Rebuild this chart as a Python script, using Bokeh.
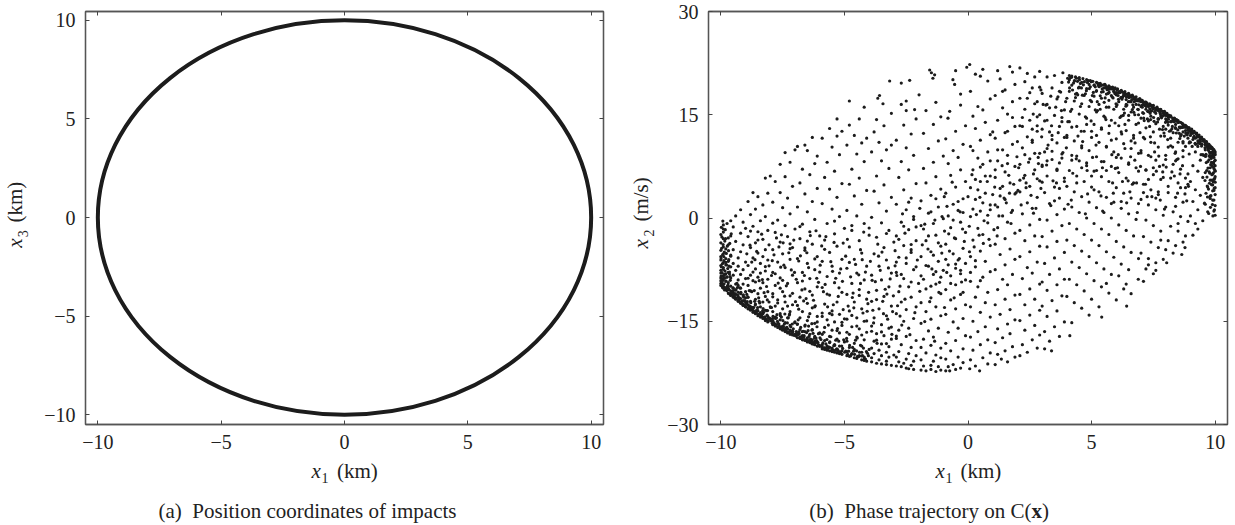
import math
from bokeh.plotting import figure
from bokeh.models import Range1d, FixedTicker, LinearAxis
from bokeh.core.properties import value
from bokeh.layouts import row, column
from bokeh.embed import file_html
from bokeh.resources import INLINE

SERIF = "Liberation Serif"
INK = "#1c1c1c"
TXT = "#222222"
FRAME = "#555555"

# ---------------- data: panel (a) ----------------
ring_center_x = [0.0]
ring_center_y = [0.0]
ring_diameter = [20.0]

# ---------------- ticks ----------------
x1_ticks = [-10, -5, 0, 5, 10]
x1_tick_labels = ["−10", "−5", "0", "5", "10"]
x3_ticks = [-10, -5, 0, 5, 10]
x3_tick_labels = ["−10", "−5", "0", "5", "10"]
x2_ticks = [-30, -15, 0, 15, 30]
x2_tick_labels = ["−30", "−15", "0", "15", "30"]

# ---------------- data: panel (b), points read region by region ----------------
col_m10 = [(-10.0,-9.8),(-10.0,-9.5),(-10.0,-9.1),(-9.9,-9.9),(-10.0,-8.7),(-9.9,-8.4),(-10.0,-8.0),(-10.0,-7.6),(-9.9,-7.2),(-10.0,-6.9),(-9.9,-6.5),(-10.0,-6.1),(-10.0,-5.6),(-9.9,-5.2),(-10.0,-4.7),(-9.9,-4.2),(-10.0,-3.6),(-9.9,-3.0),(-10.0,-2.4),(-9.9,-1.6),(-9.9,-1.0),(-9.8,-9.2),(-9.8,-8.1),(-9.8,-6.8),(-9.8,-5.9),(-9.8,-4.5),(-9.8,-10.3),(-9.9,-10.2),(-9.7,-10.9),
            (-9.6,-11.2),(-9.5,-11.5),(-9.4,-11.8),(-9.3,-12.1),(-9.2,-12.4),(-9.1,-12.7),(-9.0,-12.9),(-9.7,-10.2),(-9.6,-10.6),(-9.5,-10.9),(-9.4,-11.1),(-9.3,-11.5),(-9.2,-11.7),(-9.1,-12.0),(-9.0,-12.3),
            (-9.7,-9.4),(-9.6,-9.9),(-9.5,-10.2),(-9.4,-10.5),(-9.3,-10.8),(-9.2,-11.0),(-9.1,-11.3),(-9.0,-11.6),(-9.6,-8.7),(-9.4,-9.6),(-9.2,-10.2),(-9.0,-10.7),(-9.7,-7.9),(-9.5,-8.3),(-9.3,-9.0),(-9.1,-9.6),
            (-9.6,-7.1),(-9.4,-7.6),(-9.2,-8.2),(-9.0,-8.8),(-9.7,-6.3),(-9.5,-6.6),(-9.3,-7.0),(-9.1,-7.5),(-9.6,-5.4),(-9.3,-5.8),(-9.0,-6.4),(-9.5,-4.6),(-9.2,-4.9),(-9.7,-3.9),(-9.4,-3.4),(-9.1,-3.9),
            (-9.6,-2.6),(-9.2,-2.2),(-9.5,-1.3),(-9.1,-0.6),(-9.4,0.3),(-9.6,-0.4),(-9.2,1.2),(-9.0,-1.5),(-9.3,-9.8)]
col_m9 = [(-8.9,-13.2),(-8.8,-13.4),(-8.7,-13.7),(-8.6,-13.9),(-8.5,-14.2),(-8.4,-14.4),(-8.3,-14.6),(-8.2,-14.9),(-8.1,-15.1),(-8.9,-12.6),(-8.7,-13.0),(-8.5,-13.5),(-8.3,-13.9),(-8.1,-14.3),(-8.8,-12.1),(-8.6,-12.5),(-8.4,-12.9),(-8.2,-13.4),
          (-8.9,-11.5),(-8.6,-11.8),(-8.3,-12.2),(-8.0,-12.9),(-8.8,-10.6),(-8.5,-11.0),(-8.2,-11.4),(-8.9,-9.8),(-8.4,-10.2),(-8.1,-10.7),(-8.7,-9.1),(-8.3,-9.4),(-8.8,-8.3),(-8.5,-8.6),(-8.1,-8.9),(-8.6,-7.4),(-8.2,-7.7),(-8.9,-6.9),(-8.4,-6.6),(-8.7,-5.8),(-8.1,-6.1),
          (-8.5,-5.1),(-8.8,-4.3),(-8.2,-4.6),(-8.6,-3.6),(-8.3,-3.1),(-8.9,-2.7),(-8.5,-2.0),(-8.1,-1.8),(-8.7,-1.2),(-8.4,-0.4),(-8.8,0.5),(-8.2,0.2),(-8.6,1.3),(-8.9,2.4),(-8.3,1.9),(-8.5,3.1),(-8.1,3.6),(-8.7,3.7),(-8.2,5.8),(-8.0,6.1)]
col_m8 = [(-7.9,-15.5),(-7.8,-15.7),(-7.7,-15.9),(-7.6,-16.1),(-7.5,-16.3),(-7.4,-16.5),(-7.3,-16.7),(-7.2,-16.9),(-7.1,-17.0),(-7.9,-14.9),(-7.7,-15.3),(-7.5,-15.7),(-7.3,-16.1),(-7.1,-16.4),(-7.8,-14.4),(-7.6,-14.8),(-7.4,-15.2),(-7.2,-15.6),
          (-7.9,-13.6),(-7.6,-13.9),(-7.3,-14.5),(-7.0,-15.1),(-7.8,-12.8),(-7.5,-13.2),(-7.2,-13.6),(-7.7,-11.9),(-7.4,-12.2),(-7.1,-12.6),(-7.9,-11.0),(-7.5,-10.7),(-7.2,-11.3),(-7.8,-9.8),(-7.3,-9.5),(-7.6,-8.7),(-7.1,-8.3),(-7.9,-7.9),(-7.4,-7.2),(-7.7,-6.4),(-7.2,-6.0),
          (-7.5,-5.2),(-7.9,-4.6),(-7.1,-4.3),(-7.6,-3.5),(-7.3,-2.7),(-7.8,-2.1),(-7.4,-1.1),(-7.0,-1.6),(-7.7,-0.3),(-7.2,0.6),(-7.5,1.5),(-7.9,2.3),(-7.3,2.9),(-7.6,3.7),(-7.1,4.6),(-7.8,5.3),(-7.4,6.0),(-7.6,7.8),(-7.2,8.1),(-7.4,9.5),(-7.0,9.9)]
col_m7 = [(-6.9,-17.4),(-6.8,-17.5),(-6.7,-17.7),(-6.6,-17.8),(-6.5,-18.0),(-6.4,-18.1),(-6.3,-18.3),(-6.2,-18.4),(-6.1,-18.6),(-6.9,-16.8),(-6.7,-17.1),(-6.5,-17.4),(-6.3,-17.7),(-6.1,-18.0),(-6.8,-16.2),(-6.6,-16.5),(-6.4,-16.9),(-6.2,-17.2),
          (-6.9,-15.4),(-6.6,-15.7),(-6.3,-16.2),(-6.0,-16.7),(-6.8,-14.5),(-6.5,-14.9),(-6.2,-15.3),(-6.7,-13.6),(-6.4,-13.9),(-6.1,-14.3),(-6.9,-12.7),(-6.5,-12.4),(-6.2,-12.9),(-6.8,-11.5),(-6.3,-11.2),(-6.6,-10.3),(-6.1,-10.0),(-6.9,-9.4),(-6.4,-8.8),(-6.7,-7.9),(-6.2,-7.5),
          (-6.5,-6.6),(-6.9,-5.9),(-6.1,-5.6),(-6.6,-4.7),(-6.3,-3.8),(-6.8,-3.0),(-6.4,-2.0),(-6.0,-2.6),(-6.7,-0.9),(-6.2,-0.2),(-6.5,0.9),(-6.9,1.6),(-6.3,2.4),(-6.6,3.5),(-6.1,4.3),(-6.8,5.1),(-6.4,6.3),(-6.7,7.1),(-6.2,7.9),(-6.5,9.8),(-6.9,10.4),(-6.6,10.6),(-6.3,11.7),(-6.1,9.0)]
col_m6 = [(-5.9,-19.0),(-5.8,-19.1),(-5.7,-19.2),(-5.6,-19.3),(-5.5,-19.4),(-5.4,-19.5),(-5.3,-19.6),(-5.2,-19.7),(-5.1,-19.8),(-5.9,-18.4),(-5.7,-18.6),(-5.5,-18.9),(-5.3,-19.1),(-5.1,-19.3),(-5.8,-17.8),(-5.6,-18.1),(-5.4,-18.4),(-5.2,-18.6),
          (-5.9,-16.9),(-5.6,-17.2),(-5.3,-17.6),(-5.0,-18.0),(-5.8,-15.9),(-5.5,-16.3),(-5.2,-16.7),(-5.7,-14.8),(-5.4,-15.1),(-5.1,-15.6),(-5.9,-13.8),(-5.5,-13.5),(-5.2,-14.0),(-5.8,-12.5),(-5.3,-12.2),(-5.6,-11.2),(-5.1,-10.8),(-5.9,-10.1),(-5.4,-9.4),(-5.7,-8.5),(-5.2,-8.0),
          (-5.5,-7.0),(-5.9,-6.3),(-5.1,-6.0),(-5.6,-5.0),(-5.3,-4.1),(-5.8,-3.2),(-5.4,-2.3),(-5.0,-1.5),(-5.7,-0.8),(-5.2,0.2),(-5.5,1.3),(-5.9,2.1),(-5.3,3.0),(-5.6,4.2),(-5.1,5.0),(-5.8,5.9),(-5.4,6.8),(-5.7,8.1),(-5.2,9.2),(-5.5,10.3),(-5.9,11.6),(-5.3,11.9),(-5.6,13.0),(-5.1,12.6),(-5.3,14.4)]
col_m5 = [(-4.9,-20.0),(-4.8,-20.1),(-4.6,-20.3),(-4.5,-20.4),(-4.3,-20.6),(-4.2,-20.7),(-4.1,-20.8),(-4.9,-19.4),(-4.7,-19.7),(-4.4,-20.0),(-4.2,-20.2),(-4.8,-18.8),(-4.6,-19.1),(-4.3,-19.5),
          (-4.9,-17.9),(-4.6,-18.2),(-4.3,-18.6),(-4.0,-19.1),(-4.8,-16.9),(-4.5,-17.3),(-4.2,-17.7),(-4.7,-15.8),(-4.4,-16.1),(-4.1,-16.6),(-4.9,-14.7),(-4.5,-14.5),(-4.2,-15.0),(-4.8,-13.5),(-4.3,-13.2),(-4.6,-12.2),(-4.1,-11.8),(-4.9,-11.1),(-4.4,-10.4),(-4.7,-9.5),(-4.2,-9.0),
          (-4.5,-8.0),(-4.9,-7.3),(-4.1,-7.0),(-4.6,-6.0),(-4.3,-5.1),(-4.8,-4.2),(-4.4,-3.3),(-4.0,-2.5),(-4.7,-1.8),(-4.2,-0.8),(-4.5,0.3),(-4.9,1.1),(-4.3,2.0),(-4.6,3.2),(-4.1,4.0),(-4.8,4.9),(-4.4,5.8),(-4.7,7.1),(-4.2,8.2),(-4.5,9.3),(-4.9,10.6),(-4.3,10.9),(-4.6,12.0),(-4.1,11.6),(-4.8,13.5),(-4.4,14.4),(-4.8,17.0),(-4.2,16.1)]
col_m4 = [(-3.9,-20.9),(-3.7,-21.1),(-3.5,-21.2),(-3.3,-21.3),(-3.1,-21.4),(-3.9,-20.3),(-3.6,-20.6),(-3.3,-20.8),(-3.8,-19.7),(-3.5,-20.0),(-3.2,-20.2),
          (-3.9,-18.9),(-3.6,-19.2),(-3.3,-19.5),(-3.0,-19.9),(-3.8,-17.9),(-3.5,-18.3),(-3.2,-18.7),(-3.7,-16.8),(-3.4,-17.1),(-3.1,-17.6),(-3.9,-15.7),(-3.5,-15.5),(-3.2,-16.0),(-3.8,-14.5),(-3.3,-14.2),(-3.6,-13.2),(-3.1,-12.8),(-3.9,-12.1),(-3.4,-11.4),(-3.7,-10.5),(-3.2,-10.0),
          (-3.5,-9.0),(-3.9,-8.3),(-3.1,-8.0),(-3.6,-7.0),(-3.3,-6.1),(-3.8,-5.2),(-3.4,-4.3),(-3.0,-3.5),(-3.7,-2.8),(-3.2,-1.8),(-3.5,-0.7),(-3.9,0.1),(-3.3,1.0),(-3.6,2.2),(-3.1,3.0),(-3.8,3.9),(-3.4,4.8),(-3.7,6.1),(-3.2,7.2),(-3.5,8.3),(-3.9,9.6),(-3.3,9.9),(-3.6,11.0),(-3.1,10.6),(-3.8,12.5),(-3.4,13.4),(-3.7,14.3),(-3.1,15.2),(-3.65,17.4),(-3.58,17.8),(-3.44,16.6),(-3.17,19.9)]
col_m3 = [(-2.9,-21.5),(-2.7,-21.6),(-2.5,-21.8),(-2.4,-21.9),(-2.2,-22.0),(-2.8,-20.9),(-2.6,-21.1),(-2.3,-21.4),(-2.9,-20.2),(-2.5,-20.5),(-2.2,-20.8),
          (-2.8,-19.4),(-2.4,-19.7),(-2.1,-20.0),(-2.7,-18.4),(-2.3,-18.8),(-2.9,-17.5),(-2.5,-17.2),(-2.1,-17.8),(-2.8,-16.3),(-2.4,-16.0),(-2.6,-15.0),(-2.2,-14.6),(-2.9,-13.9),(-2.5,-13.3),(-2.1,-12.9),(-2.7,-12.2),(-2.3,-11.5),(-2.8,-10.7),(-2.4,-10.0),(-2.0,-9.5),
          (-2.6,-8.8),(-2.9,-7.9),(-2.2,-7.5),(-2.5,-6.6),(-2.8,-5.7),(-2.3,-5.0),(-2.6,-4.0),(-2.1,-3.3),(-2.9,-2.6),(-2.4,-1.7),(-2.7,-0.6),(-2.2,0.2),(-2.5,1.2),(-2.9,2.0),(-2.3,2.9),(-2.6,4.1),(-2.1,5.0),(-2.8,5.9),(-2.4,7.0),(-2.7,8.2),(-2.2,9.1),(-2.5,10.2),(-2.9,11.3),(-2.3,12.2),(-2.6,13.5),(-2.1,14.4),(-2.5,15.6),(-2.7,16.5),(-2.16,15.75),(-2.36,20.0),(-2.7,19.6),(-1.98,17.9),(-2.5,17.0)]
col_m2 = [(-1.9,-22.1),(-1.7,-22.2),(-1.5,-22.0),(-1.3,-22.3),(-1.1,-22.1),(-1.8,-21.5),(-1.5,-21.4),(-1.2,-21.6),(-1.9,-20.6),(-1.4,-20.8),(-1.1,-20.3),
          (-1.7,-19.6),(-1.3,-19.9),(-1.9,-18.8),(-1.5,-18.5),(-1.1,-18.9),(-1.8,-17.6),(-1.4,-17.3),(-1.6,-16.4),(-1.2,-16.0),(-1.9,-15.3),(-1.5,-14.7),(-1.1,-14.2),(-1.7,-13.6),(-1.3,-12.9),(-1.9,-12.3),(-1.5,-11.6),(-1.1,-11.0),(-1.7,-10.3),(-1.3,-9.6),
          (-1.8,-8.9),(-1.4,-8.2),(-1.0,-7.6),(-1.6,-7.0),(-1.2,-6.3),(-1.9,-5.6),(-1.5,-4.9),(-1.1,-4.1),(-1.7,-3.3),(-1.3,-2.5),(-1.8,-1.6),(-1.4,-0.8),(-1.0,-0.1),(-1.6,0.7),(-1.2,1.6),(-1.9,2.5),(-1.5,3.3),(-1.1,4.2),(-1.7,5.1),(-1.3,6.0),(-1.8,7.2),(-1.4,8.1),(-1.0,9.0),(-1.6,10.1),(-1.2,11.2),(-1.8,12.3),(-1.4,13.6),(-1.1,14.7),(-1.55,21.5),(-1.48,21.1),(-1.42,20.3),(-1.35,20.8),(-1.7,15.6),(-1.3,16.8)]
col_m1 = [(-0.9,-22.2),(-0.74,-22.2),(-0.5,-22.0),(-0.3,-21.8),(-0.8,-21.6),(-0.6,-21.3),(-0.2,-21.0),(-0.9,-20.5),(-0.4,-20.2),
          (-0.7,-19.3),(-0.2,-19.0),(-0.9,-18.2),(-0.5,-17.8),(-0.1,-17.1),(-0.8,-16.6),(-0.4,-16.0),(-0.6,-15.1),(-0.2,-14.6),(-0.9,-14.0),(-0.5,-13.2),(-0.1,-12.6),(-0.7,-11.9),(-0.3,-11.1),(-0.9,-10.4),(-0.5,-9.7),(-0.1,-9.0),(-0.7,-8.4),(-0.3,-7.6),(-0.8,-6.8),(-0.4,-6.1),
          (-0.6,-5.2),(-0.2,-4.4),(-0.9,-3.8),(-0.5,-3.0),(-0.1,-2.1),(-0.7,-1.4),(-0.3,-0.6),(-0.8,0.3),(-0.4,1.1),(-0.6,2.0),(-0.2,2.8),(-0.9,3.6),(-0.5,4.5),(-0.1,5.3),(-0.7,6.2),(-0.3,7.0),(-0.8,7.9),(-0.4,8.8),(-0.6,9.8),(-0.2,10.7),(-0.9,11.5),(-0.5,12.6),(-0.1,13.4),(-0.74,15.5),(-0.81,14.5),(-0.3,16.4),(-0.61,20.1),(-0.54,19.4),(-0.5,21.4),(-0.3,18.0),(-0.05,21.9)]
col_p0 = [(0.07,-21.9),(0.47,-22.2),(0.3,-21.5),(0.8,-21.2),(0.1,-20.6),(0.6,-20.3),(0.9,-19.6),(0.2,-19.2),(0.5,-18.4),(0.8,-17.7),(0.1,-17.3),
          (0.4,-16.5),(0.7,-15.8),(0.2,-15.0),(0.9,-14.4),(0.5,-13.7),(0.1,-12.9),(0.7,-12.3),(0.3,-11.5),(0.8,-10.8),(0.4,-10.0),(0.1,-9.2),
          (0.6,-8.6),(0.9,-7.8),(0.3,-7.1),(0.7,-6.3),(0.1,-5.6),(0.5,-4.8),(0.9,-4.0),(0.2,-3.2),(0.6,-2.4),(0.4,-1.5),(0.8,-0.7),(0.1,0.2),(0.5,1.0),(0.9,1.9),(0.3,2.7),(0.7,3.6),(0.1,4.4),(0.5,5.3),(0.9,6.1),(0.2,7.0),(0.6,7.8),(0.4,8.7),(0.8,9.6),(0.1,10.4),(0.5,11.3),(0.9,12.1),(0.3,13.0),(0.7,13.9),(0.2,14.8),(0.6,15.7),(0.4,16.2),(0.9,17.3),(0.1,18.4),(0.07,22.3),(0.6,21.6),(0.3,20.9),(0.8,19.9),(0.5,20.6)]
col_p1 = [(1.1,-21.3),(1.35,-20.5),(1.6,-20.9),(1.9,-20.2),(1.2,-19.8),(1.5,-19.3),(1.8,-18.7),(1.1,-18.1),(1.4,-17.4),(1.7,-16.8),(1.2,-16.1),(1.6,-15.4),(1.9,-14.8),(1.3,-14.0),(1.7,-13.3),(1.1,-12.6),(1.5,-11.8),(1.9,-11.2),(1.2,-10.4),(1.6,-9.7),
          (1.4,-8.9),(1.8,-8.2),(1.1,-7.5),(1.5,-6.8),(1.9,-6.0),(1.3,-5.3),(1.7,-4.5),(1.1,-3.8),(1.5,-3.0),(1.9,-2.2),(1.2,-1.4),(1.6,-0.6),(1.4,0.3),(1.8,1.1),(1.1,1.9),(1.5,2.7),(1.9,3.5),(1.3,4.3),(1.7,5.1),(1.1,5.9),(1.5,6.7),(1.9,7.5),(1.2,8.3),(1.6,9.1),(1.4,9.9),(1.8,10.7),(1.1,11.6),(1.5,12.4),(1.9,13.3),(1.2,14.2),(1.6,15.1),(1.4,16.0),(1.8,16.9),(1.1,17.8),(1.5,18.6),(1.9,19.4),(1.3,20.2),(1.69,22.0),(1.8,21.2),(1.2,21.4),(1.6,7.9),(1.3,3.2)]
col_p2 = [(2.1,-20.0),(2.4,-19.5),(2.8,-18.9),(2.2,-18.4),(2.6,-17.7),(2.9,-17.0),(2.3,-16.3),(2.7,-15.6),(2.1,-14.9),(2.5,-14.1),(2.9,-13.4),(2.3,-12.6),(2.7,-11.8),(2.1,-11.1),(2.5,-10.3),(2.9,-9.6),(2.2,-8.8),(2.6,-8.0),(2.4,-7.2),(2.8,-6.4),
          (2.1,-5.6),(2.5,-4.9),(2.9,-4.1),(2.3,-3.3),(2.7,-2.6),(2.1,-1.8),(2.5,-1.0),(2.9,-0.2),(2.2,0.6),(2.6,1.4),(2.4,2.2),(2.8,3.0),(2.1,3.8),(2.5,4.6),(2.9,5.4),(2.3,6.2),(2.7,7.0),(2.1,7.8),(2.5,8.6),(2.9,9.4),(2.2,10.2),(2.6,11.0),(2.4,11.8),(2.8,12.6),(2.1,13.4),(2.5,14.2),(2.9,15.0),(2.3,15.8),(2.7,16.6),(2.1,17.4),(2.5,18.2),(2.9,19.0),(2.3,19.8),(2.7,20.5),(2.1,21.8),(2.9,21.3),(2.4,21.0),(2.6,18.9),(2.8,16.9),(2.2,14.6),(2.6,12.9),(2.3,9.2),(2.8,5.7)]
col_p3 = [(3.1,-19.0),(3.38,-19.3),(3.3,-17.9),(3.7,-17.2),(3.1,-16.5),(3.5,-15.8),(3.9,-15.1),(3.2,-14.3),(3.6,-13.5),(3.0,-12.8),(3.4,-12.0),(3.8,-11.3),(3.2,-10.5),(3.6,-9.7),(3.9,-8.9),(3.3,-8.2),(3.7,-7.4),(3.1,-6.6),(3.5,-5.8),(3.9,-5.0),
          (3.2,-4.2),(3.6,-3.4),(3.0,-2.7),(3.4,-1.9),(3.8,-1.1),(3.2,-0.3),(3.6,0.5),(3.9,1.3),(3.3,2.1),(3.7,2.9),(3.1,3.7),(3.5,4.5),(3.9,5.3),(3.2,6.1),(3.6,6.9),(3.0,7.7),(3.4,8.5),(3.8,9.3),(3.2,10.1),(3.6,10.9),(3.9,11.7),(3.3,12.5),(3.7,13.3),(3.1,14.1),(3.5,14.9),(3.9,15.7),(3.2,16.5),(3.6,17.3),(3.0,18.1),(3.4,18.9),(3.8,19.7),(3.2,20.5),(3.84,21.1),(3.5,20.7),(3.7,18.4),(3.3,16.0),(3.8,14.6),(3.4,12.0),(3.1,9.6),(3.7,8.0),(3.5,2.5),(3.0,-9.3)]
col_p4 = [(4.1,20.7),(4.2,20.6),(4.35,20.5),(4.5,20.4),(4.65,20.25),(4.8,20.1),(4.95,19.95),(4.1,20.1),(4.3,19.9),(4.6,19.7),(4.9,19.4),(4.2,19.3),(4.5,19.0),(4.8,18.8),(4.1,18.4),(4.4,18.1),(4.7,17.8),(4.0,17.4),(4.3,17.0),(4.6,16.6),(4.9,16.2),
          (4.2,15.8),(4.5,15.1),(4.8,14.5),(4.1,14.0),(4.4,13.3),(4.7,12.6),(4.0,12.0),(4.3,11.2),(4.6,10.5),(4.9,9.8),(4.2,9.1),(4.5,8.3),(4.8,7.6),(4.1,6.9),(4.4,6.1),(4.7,5.3),(4.0,4.6),(4.3,3.8),(4.6,3.1),(4.9,2.3),(4.2,1.6),(4.5,0.8),(4.8,0.0),
          (4.1,-0.8),(4.4,-1.6),(4.7,-2.4),(4.0,-3.2),(4.3,-4.0),(4.6,-4.8),(4.9,-5.6),(4.2,-6.4),(4.5,-7.2),(4.8,-8.1),(4.1,-8.9),(4.4,-9.7),(4.7,-10.6),(4.0,-11.4),(4.3,-12.3),(4.6,-13.1),(4.12,-17.1),(4.2,-15.2),(4.9,-14.1)]
col_p5 = [(5.05,19.85),(5.2,19.7),(5.35,19.55),(5.54,19.4),(5.7,19.2),(5.85,19.0),(5.95,18.9),(5.1,19.3),(5.3,19.1),(5.5,18.9),(5.7,18.7),(5.9,18.4),(5.2,18.5),(5.4,18.3),(5.6,18.0),(5.8,17.8),(5.1,17.7),(5.4,17.4),(5.7,17.1),(5.0,16.9),(5.3,16.5),(5.6,16.1),(5.9,15.8),
          (5.2,15.4),(5.5,14.8),(5.8,14.2),(5.1,13.6),(5.4,12.9),(5.7,12.3),(5.0,11.7),(5.3,11.0),(5.6,10.3),(5.9,9.6),(5.2,8.9),(5.5,8.2),(5.8,7.5),(5.1,6.8),(5.4,6.0),(5.7,5.3),(5.0,4.5),(5.3,3.8),(5.6,3.0),(5.9,2.3),(5.2,1.5),(5.5,0.8),(5.8,0.0),
          (5.1,-0.8),(5.4,-1.6),(5.7,-2.4),(5.0,-3.2),(5.3,-4.0),(5.6,-4.9),(5.9,-5.7),(5.2,-6.5),(5.5,-7.4),(5.8,-8.2),(5.1,-9.1),(5.4,-10.0),(5.7,-10.9),(5.0,-11.8),(5.41,-14.4),(5.3,-12.9),(5.6,-9.5)]
col_p6 = [(6.05,18.75),(6.2,18.55),(6.35,18.35),(6.5,18.1),(6.65,17.85),(6.8,17.6),(6.95,17.35),(6.1,18.2),(6.3,17.9),(6.5,17.6),(6.7,17.3),(6.9,17.0),(6.0,17.9),(6.2,17.5),(6.4,17.2),(6.6,16.9),(6.8,16.5),(6.1,16.9),(6.4,16.5),(6.7,16.1),(6.0,16.2),(6.3,15.8),(6.6,15.4),(6.9,15.0),
          (6.2,14.8),(6.5,14.2),(6.8,13.6),(6.1,13.4),(6.4,12.7),(6.7,12.0),(6.0,11.5),(6.3,10.8),(6.6,10.1),(6.9,9.4),(6.2,8.7),(6.5,8.0),(6.8,7.3),(6.1,6.6),(6.4,5.8),(6.7,5.1),(6.0,4.4),(6.3,3.6),(6.6,2.9),(6.9,2.1),(6.2,1.4),(6.5,0.6),(6.8,-0.2),
          (6.1,-1.0),(6.4,-1.8),(6.7,-2.6),(6.0,-3.4),(6.3,-4.2),(6.6,-5.0),(6.9,-5.9),(6.2,-6.7),(6.5,-7.5),(6.89,-8.9),(6.1,-8.4),(6.42,-12.8),(6.3,-10.3),(6.6,-11.0),(6.0,-11.9),(6.4,-9.6)]
col_p7 = [(7.05,17.1),(7.2,16.85),(7.35,16.6),(7.5,16.35),(7.65,16.1),(7.8,15.8),(7.95,15.5),(7.1,16.5),(7.3,16.2),(7.5,15.9),(7.7,15.6),(7.9,15.2),(7.0,16.2),(7.2,15.8),(7.4,15.5),(7.6,15.2),(7.8,14.8),(7.1,15.2),(7.4,14.8),(7.7,14.4),(7.0,14.5),(7.3,14.1),(7.6,13.7),(7.9,13.3),
          (7.2,13.1),(7.5,12.5),(7.8,11.9),(7.1,11.7),(7.4,11.0),(7.7,10.3),(7.0,9.8),(7.3,9.1),(7.6,8.4),(7.9,7.7),(7.2,7.0),(7.5,6.3),(7.8,5.6),(7.1,4.9),(7.4,4.1),(7.7,3.4),(7.0,2.7),(7.3,1.9),(7.6,1.2),(7.9,0.4),(7.2,-0.3),(7.5,-1.1),(7.8,-1.9),
          (7.1,-2.7),(7.4,-3.5),(7.7,-4.3),(7.0,-5.1),(7.3,-5.9),(7.6,-6.5),(7.9,-6.0),(7.2,-7.4),(7.5,-8.1),(7.1,-9.2),(7.3,-6.8),(7.8,-3.2),(7.6,-7.6)]
col_p8 = [(8.05,15.2),(8.2,14.85),(8.35,14.5),(8.5,14.15),(8.65,13.8),(8.8,13.45),(8.95,13.1),(8.1,14.7),(8.3,14.3),(8.5,13.9),(8.7,13.5),(8.9,13.0),(8.0,14.4),(8.2,14.0),(8.4,13.6),(8.6,13.2),(8.8,12.7),(8.1,13.5),(8.4,13.0),(8.7,12.5),(8.0,12.9),(8.3,12.4),(8.6,11.9),(8.9,11.6),
          (8.2,11.6),(8.5,11.0),(8.8,10.4),(8.1,10.3),(8.4,9.6),(8.7,8.9),(8.0,8.5),(8.3,7.8),(8.6,7.1),(8.9,6.4),(8.2,5.8),(8.5,5.1),(8.8,4.4),(8.1,3.7),(8.4,3.0),(8.7,2.3),(8.0,1.6),(8.3,0.9),(8.6,0.2),(8.9,-0.5),(8.2,-1.2),(8.5,-1.9),(8.8,-2.6),
          (8.1,-3.3),(8.4,-4.0),(8.78,-4.3),(8.65,-5.3),(8.04,-6.5),(8.3,-5.1),(8.7,-3.5),(8.0,-4.6),(8.5,-0.8),(8.9,4.9),(8.4,8.3),(8.7,10.9),(8.2,12.7),(8.55,12.3),(8.85,12.1)]
col_p9 = [(9.05,12.9),(9.15,12.6),(9.25,12.35),(9.35,12.05),(9.45,11.75),(9.55,11.4),(9.65,11.05),(9.75,10.7),(9.85,10.3),(9.95,9.9),(10.0,9.6),
          (9.1,12.3),(9.3,11.8),(9.5,11.2),(9.7,10.6),(9.9,10.0),(9.0,12.0),(9.2,11.6),(9.4,11.1),(9.6,10.6),(9.8,10.1),(9.1,11.4),(9.4,10.8),(9.7,10.2),(9.9,9.6),(9.0,11.0),(9.3,10.4),(9.6,9.9),(9.8,9.4),
          (10.0,9.2),(9.95,8.8),(10.0,8.4),(9.9,8.0),(10.0,7.6),(9.95,7.2),(10.0,6.8),(9.9,6.4),(10.0,6.0),(9.95,5.6),(10.0,5.2),(9.9,4.8),(10.0,4.4),(9.95,4.0),(10.0,3.4),(9.9,2.6),(10.0,1.8),(9.95,1.0),(10.0,0.4),
          (9.8,8.9),(9.7,8.2),(9.8,7.3),(9.6,6.6),(9.8,5.5),(9.7,4.5),(9.8,3.2),(9.6,2.0),(9.7,0.9),(9.5,-0.4),(9.3,-1.6),(9.1,-2.5),(9.5,9.2),(9.2,9.6),(9.4,8.4),(9.1,7.6),(9.3,6.8),(9.5,5.9),(9.0,5.3),(9.2,4.1),(9.4,3.3),(9.1,2.4),(9.3,1.2),(9.0,0.3),(9.2,-0.8),(9.6,10.9),(9.3,11.2)]

band_lower_a = [(-9.95,-9.5),(-9.87,-8.3),(-9.79,-10.35),(-9.71,-9.75),(-9.63,-8.5),(-9.55,-10.7),(-9.47,-11.4),(-9.39,-10.4),(-9.31,-11.25),(-9.23,-10.15),(-9.15,-12.1),(-9.07,-11.5),(-8.99,-12.9),(-8.91,-11.5),(-8.83,-12.8),(-8.75,-10.7),(-8.67,-13.0),(-8.59,-13.7),(-8.51,-13.0),(-8.43,-12.35),(-8.35,-14.05),(-8.27,-13.7),(-8.19,-14.7),(-8.11,-13.45),(-8.03,-14.55),
                (-7.95,-13.0),(-7.87,-15.15),(-7.79,-14.6),(-7.71,-15.0),(-7.63,-15.75),(-7.55,-14.4),(-7.47,-15.75),(-7.39,-16.3),(-7.31,-15.25),(-7.23,-14.1),(-7.15,-16.45),(-7.07,-16.1),(-6.99,-16.9),(-6.91,-15.45),(-6.83,-16.8),(-6.75,-17.5),(-6.67,-16.45),(-6.59,-15.55),(-6.51,-17.6),(-6.43,-17.2),(-6.35,-18.05),(-6.27,-16.75),(-6.19,-17.9),(-6.11,-15.8),(-6.03,-18.45),
                (-5.95,-17.65),(-5.87,-18.15),(-5.79,-18.85),(-5.71,-17.65),(-5.63,-18.75),(-5.55,-17.25),(-5.47,-19.15),(-5.39,-18.5),(-5.31,-19.0),(-5.23,-17.9),(-5.15,-19.55),(-5.07,-18.95),(-4.99,-19.5),(-4.91,-17.5),(-4.83,-19.35),(-4.75,-20.05),(-4.67,-18.8),(-4.59,-19.8),(-4.51,-19.3),(-4.43,-20.15),(-4.35,-18.5),(-4.27,-20.0),(-4.19,-20.45),(-4.11,-19.4),(-4.03,-20.0)]
band_lower_b = [(-9.91,-9.05),(-9.83,-10.1),(-9.75,-8.6),(-9.67,-10.4),(-9.59,-11.05),(-9.51,-10.15),(-9.43,-11.0),(-9.35,-9.5),(-9.27,-11.85),(-9.19,-10.8),(-9.11,-12.6),(-9.03,-12.0),(-8.95,-11.1),(-8.87,-12.8),(-8.79,-12.3),(-8.71,-13.4),(-8.63,-12.1),(-8.55,-13.4),(-8.47,-11.6),(-8.39,-14.05),(-8.31,-13.5),(-8.23,-14.6),(-8.15,-13.45),(-8.07,-14.55),(-7.99,-13.0),
                (-7.91,-14.6),(-7.83,-15.35),(-7.75,-14.5),(-7.67,-15.45),(-7.59,-14.2),(-7.51,-16.1),(-7.43,-15.4),(-7.35,-15.95),(-7.27,-14.5),(-7.19,-16.45),(-7.11,-15.4),(-7.03,-17.05),(-6.95,-16.5),(-6.87,-14.8),(-6.79,-17.25),(-6.71,-16.5),(-6.63,-17.1),(-6.55,-17.75),(-6.47,-16.35),(-6.39,-17.7),(-6.31,-16.3),(-6.23,-18.15),(-6.15,-17.45),(-6.07,-18.1),(-5.99,-17.4),
                (-5.91,-18.7),(-5.83,-16.6),(-5.75,-18.3),(-5.67,-18.8),(-5.59,-18.0),(-5.51,-19.3),(-5.43,-18.55),(-5.35,-17.75),(-5.27,-19.15),(-5.19,-19.4),(-5.11,-18.6),(-5.03,-17.7),(-4.95,-19.35),(-4.87,-19.8),(-4.79,-18.5),(-4.71,-19.8),(-4.63,-19.35),(-4.55,-17.75),(-4.47,-20.1),(-4.39,-19.5),(-4.31,-20.05),(-4.23,-18.9),(-4.15,-20.5),(-4.07,-19.65)]
band_lower_c = [(-9.97,-9.2),(-9.89,-8.7),(-9.81,-10.25),(-9.73,-9.9),(-9.65,-7.85),(-9.57,-10.85),(-9.49,-10.55),(-9.41,-11.55),(-9.33,-10.1),(-9.25,-11.6),(-9.17,-12.15),(-9.09,-11.15),(-9.01,-12.85),(-8.93,-12.15),(-8.85,-10.55),(-8.77,-12.95),(-8.69,-13.45),(-8.61,-12.65),(-8.53,-13.35),(-8.45,-12.1),(-8.37,-14.3),(-8.29,-13.15),(-8.21,-14.35),(-8.13,-14.1),(-8.05,-12.2),
                (-7.97,-14.95),(-7.89,-14.3),(-7.81,-15.5),(-7.73,-14.05),(-7.65,-15.4),(-7.57,-15.85),(-7.49,-14.9),(-7.41,-13.95),(-7.33,-15.9),(-7.25,-16.65),(-7.17,-15.8),(-7.09,-16.55),(-7.01,-15.2),(-6.93,-17.0),(-6.85,-16.55),(-6.77,-15.9),(-6.69,-17.3),(-6.61,-17.65),(-6.53,-16.65),(-6.45,-15.7),(-6.37,-17.6),(-6.29,-18.05),(-6.21,-17.45),(-6.13,-17.8),(-6.05,-16.8)]
band_lower_d = [(-9.94,-9.95),(-9.85,-10.45),(-9.76,-10.55),(-9.68,-11.0),(-9.6,-11.25),(-9.52,-11.1),(-9.45,-11.6),(-9.37,-11.75),(-9.28,-12.05),(-9.2,-12.3),(-9.12,-12.45),(-9.04,-12.7),(-8.96,-12.45),(-8.88,-13.1),(-8.8,-13.25),(-8.72,-13.05),(-8.64,-13.65),(-8.56,-13.8),(-8.48,-14.0),(-8.4,-13.75),(-8.32,-14.35),(-8.24,-14.45),(-8.16,-14.8),(-8.08,-14.95),(-8.0,-14.7),(-7.92,-15.3),(-7.84,-15.45),(-7.76,-15.6),(-7.68,-15.35),(-7.6,-15.95),
                (-7.52,-16.15),(-7.44,-16.05),(-7.36,-16.4),(-7.28,-16.55),(-7.2,-16.3),(-7.12,-16.8),(-7.04,-16.95),(-6.96,-17.15),(-6.88,-16.95),(-6.8,-17.35),(-6.72,-17.5),(-6.64,-17.3),(-6.56,-17.8),(-6.48,-17.9),(-6.4,-17.85),(-6.32,-18.2),(-6.24,-18.3),(-6.16,-18.1),(-6.08,-18.55),(-6.0,-18.65),(-5.92,-18.5),(-5.84,-18.85),(-5.76,-18.95),(-5.68,-19.05),(-5.6,-18.8),(-5.52,-19.25),(-5.44,-19.35),(-5.36,-19.2),(-5.28,-19.5),(-5.2,-19.6)]
band_upper_a = [(4.03,20.3),(4.11,18.9),(4.19,20.45),(4.27,19.6),(4.35,18.0),(4.43,19.85),(4.51,20.1),(4.59,18.9),(4.67,19.35),(4.75,18.05),(4.83,19.7),(4.91,18.8),(4.99,19.8),(5.07,18.25),(5.15,19.05),(5.23,16.9),(5.31,19.1),(5.39,19.3),(5.47,18.35),(5.55,17.45),(5.63,18.65),(5.71,18.25),(5.79,18.75),(5.87,17.45),(5.95,18.05),
                (6.03,16.45),(6.11,18.2),(6.19,17.5),(6.27,17.65),(6.35,18.05),(6.43,16.4),(6.51,17.5),(6.59,17.75),(6.67,16.45),(6.75,15.0),(6.83,17.05),(6.91,16.45),(6.99,16.9),(7.07,15.3),(7.15,16.35),(7.23,16.6),(7.31,15.45),(7.39,14.3),(7.47,15.95),(7.55,15.4),(7.63,15.95),(7.71,14.4),(7.79,15.1),(7.87,12.85),(7.95,15.1),
                (8.03,14.15),(8.11,14.35),(8.19,14.7),(8.27,13.3),(8.35,14.05),(8.43,12.35),(8.51,13.9),(8.59,13.1),(8.67,13.2),(8.75,11.9),(8.83,13.2),(8.91,12.4),(8.99,12.6),(9.07,10.4),(9.15,11.85),(9.23,12.25),(9.31,10.85),(9.39,11.4),(9.47,10.7),(9.55,11.15),(9.63,9.25),(9.71,10.25),(9.79,10.35),(9.87,9.0),(9.95,9.2)]
band_upper_b = [(4.07,19.75),(4.15,20.4),(4.23,18.6),(4.31,19.95),(4.39,20.3),(4.47,18.9),(4.55,19.55),(4.63,17.85),(4.71,19.8),(4.79,18.5),(4.87,19.95),(4.95,19.05),(5.03,17.8),(5.11,19.3),(5.19,18.4),(5.27,19.35),(5.35,17.75),(5.43,18.75),(5.51,16.8),(5.59,18.9),(5.67,18.1),(5.75,18.9),(5.83,17.6),(5.91,18.3),(5.99,16.6),
                (6.07,17.8),(6.15,18.25),(6.23,17.25),(6.31,17.8),(6.39,16.25),(6.47,17.85),(6.55,16.9),(6.63,17.2),(6.71,15.35),(6.79,17.15),(6.87,15.8),(6.95,17.2),(7.03,16.35),(7.11,14.5),(7.19,16.55),(7.27,15.5),(7.35,15.85),(7.43,16.2),(7.51,14.6),(7.59,15.6),(7.67,13.95),(7.75,15.5),(7.83,14.55),(7.91,14.9),(7.99,13.9),
                (8.07,14.95),(8.15,12.6),(8.23,14.0),(8.31,14.2),(8.39,13.15),(8.47,14.15),(8.55,13.2),(8.63,12.1),(8.71,13.2),(8.79,13.2),(8.87,12.1),(8.95,10.9),(9.03,12.3),(9.11,12.45),(9.19,10.85),(9.27,11.85),(9.35,11.15),(9.43,9.2),(9.51,11.25),(9.59,10.2),(9.67,10.5),(9.75,9.0),(9.83,10.2),(9.91,9.25),(9.99,9.35)]
band_upper_c = [(6.01,18.2),(6.09,17.25),(6.17,18.3),(6.25,17.5),(6.33,15.25),(6.41,17.6),(6.49,16.9),(6.57,17.6),(6.65,15.75),(6.73,16.9),(6.81,17.1),(6.89,15.75),(6.97,17.15),(7.05,16.1),(7.13,14.15),(7.21,16.2),(7.29,16.35),(7.37,15.2),(7.45,15.6),(7.53,14.05),(7.61,15.9),(7.69,14.4),(7.77,15.25),(7.85,14.7),(7.93,12.35),
                (8.01,14.9),(8.09,13.9),(8.17,14.75),(8.25,12.95),(8.33,14.0),(8.41,14.1),(8.49,12.8),(8.57,11.55),(8.65,13.15),(8.73,13.55),(8.81,12.35),(8.89,12.75),(8.97,11.05),(9.05,12.55),(9.13,11.7),(9.21,10.7),(9.29,11.8),(9.37,11.75),(9.45,10.45),(9.53,9.1),(9.61,10.65),(9.69,10.65),(9.77,9.6),(9.85,9.5),(9.93,8.05)]
band_upper_d = [(9.96,9.75),(9.88,10.2),(9.8,10.5),(9.72,10.75),(9.64,11.1),(9.56,11.25),(9.48,11.5),(9.4,11.7),(9.32,12.0),(9.24,12.2),(9.16,12.45),(9.08,12.6),(9.0,12.8),(8.92,13.15),(8.84,13.3),(8.76,13.35),(8.68,13.7),(8.6,13.9),(8.52,13.95),(8.44,14.3),(8.36,14.45),(8.28,14.5),(8.2,14.8),(8.12,14.95),(8.04,14.95),(7.96,15.35),(7.88,15.5),(7.8,15.5),(7.72,15.8),(7.64,15.95),
                (7.56,15.95),(7.48,16.3),(7.4,16.4),(7.32,16.4),(7.24,16.7),(7.16,16.85),(7.08,16.8),(7.0,17.1),(6.92,17.25),(6.84,17.2),(6.76,17.5),(6.68,17.65),(6.6,17.6),(6.52,17.9),(6.44,18.0),(6.36,17.95),(6.28,18.25),(6.2,18.4),(6.12,18.35),(6.04,18.6),(5.96,18.75),(5.88,18.7),(5.8,18.95),(5.72,19.05),(5.64,19.0),(5.56,19.25),(5.48,19.35),(5.4,19.3),(5.32,19.5),(5.24,19.6)]
edge_left = [(-9.97,-9.35),(-9.92,-8.9),(-9.99,-8.45),(-9.85,-8.75),(-9.95,-7.95),(-9.9,-7.45),(-9.98,-7.1),(-9.83,-7.7),(-9.94,-6.65),(-9.88,-6.2),(-9.99,-5.85),(-9.8,-6.45),(-9.93,-5.35),(-9.86,-4.95),(-9.97,-4.4),(-9.78,-5.15),(-9.91,-3.85),(-9.84,-3.35),(-9.96,-2.75),(-9.74,-4.1),(-9.9,-2.05),(-9.98,-1.35),(-9.82,-1.7),
             (-9.7,-2.9),(-9.95,-9.7),(-9.87,-9.55),(-9.76,-8.55),(-9.72,-7.35),(-9.68,-6.05),(-9.65,-8.15),(-9.62,-9.05),(-9.73,-9.95),(-9.79,-9.15),(-9.67,-7.0),(-9.6,-5.55),(-9.88,-5.6),(-9.81,-3.0),(-9.64,-3.7),(-9.75,-0.8),(-9.92,-0.45),(-9.58,-2.3),(-9.69,-4.75),(-9.86,-8.2),(-9.77,-6.8),(-9.93,-10.1)]
edge_right = [(9.96,9.4),(9.9,8.85),(9.98,8.3),(9.84,8.65),(9.94,7.85),(9.89,7.5),(9.99,6.95),(9.82,7.75),(9.93,6.55),(9.87,6.3),(9.98,5.75),(9.79,6.5),(9.92,5.25),(9.85,4.85),(9.96,4.3),(9.77,5.05),(9.9,3.95),(9.83,3.25),(9.95,2.6),(9.73,4.2),(9.89,1.95),(9.97,1.2),(9.81,1.55),
              (9.69,3.05),(9.94,9.85),(9.86,9.45),(9.75,8.45),(9.71,7.25),(9.67,5.95),(9.64,8.05),(9.61,8.95),(9.72,9.85),(9.78,9.05),(9.66,6.9),(9.59,5.45),(9.87,5.5),(9.8,2.85),(9.63,3.6),(9.74,0.65),(9.91,0.3),(9.57,2.15),(9.68,4.65),(9.85,8.1),(9.76,6.7),(9.92,10.0)]
inner_lower_left = [(-8.6,-9.3),(-8.45,-9.1),(-8.2,-7.05),(-7.95,-8.35),(-7.8,-8.1),(-7.6,-10.2),(-7.35,-9.85),(-7.15,-7.55),(-6.95,-8.9),(-6.7,-9.15),(-6.55,-11.7),(-6.4,-10.65),(-6.25,-11.95),(-6.05,-9.35),(-5.85,-10.7),(-5.7,-11.05),(-5.45,-12.6),(-5.25,-11.4),(-5.05,-13.3),(-4.85,-12.8),(-4.65,-10.9),(-4.4,-11.25),(-4.25,-13.8),(-4.05,-12.45),(-3.85,-13.4),(-3.7,-11.85),(-3.45,-12.1),(-3.25,-14.7),(-3.05,-13.6),(-2.85,-12.75),
                    (-8.75,-6.4),(-8.55,-4.85),(-8.3,-5.6),(-8.05,-3.9),(-7.85,-5.35),(-7.65,-4.2),(-7.45,-6.85),(-7.25,-5.05),(-7.05,-3.2),(-6.85,-6.25),(-6.6,-4.35),(-6.45,-7.2),(-6.2,-5.95),(-6.0,-7.85),(-5.8,-4.55),(-5.55,-6.35),(-5.35,-8.75),(-5.15,-7.4),(-4.95,-5.55),(-4.75,-8.55),(-4.55,-6.75),(-4.35,-9.5),(-4.15,-7.85),(-3.95,-6.3),(-3.75,-9.25),(-3.55,-7.6),(-3.35,-10.35),(-3.15,-8.85),(-2.95,-6.95),(-2.75,-9.9),
                    (-8.9,-8.75),(-8.65,-10.55),(-8.4,-8.0),(-8.15,-9.95),(-7.9,-11.45),(-7.7,-12.35),(-7.5,-9.05),(-7.3,-12.8),(-7.1,-10.95),(-6.85,-13.25),(-6.65,-12.05),(-6.45,-14.35),(-6.3,-13.05),(-6.1,-15.1),(-5.9,-14.3),(-5.65,-15.55),(-5.5,-14.05),(-5.3,-16.35),(-5.1,-15.15),(-4.9,-16.6),(-4.7,-14.15),(-4.5,-15.7),(-4.3,-17.0),(-4.1,-14.95),(-3.9,-16.45),(-3.7,-17.75),(-3.5,-16.55),(-3.3,-18.25),(-3.1,-15.85),(-2.9,-17.15),
                    (-8.8,-1.9),(-8.35,-2.35),(-7.9,-0.75),(-7.55,-2.45),(-7.2,-3.75),(-6.8,-1.25),(-6.5,-3.35),(-6.15,-1.85),(-5.75,-2.7),(-5.4,-0.45),(-5.05,-3.65),(-4.7,-1.1),(-4.35,-4.6),(-4.0,-1.45),(-3.65,-3.8),(-3.3,-2.25),(-2.95,-4.75),(-2.6,-1.2),(-2.3,-3.85),(-2.05,-6.1),
                    (-2.75,-14.25),(-2.55,-11.8),(-2.35,-16.95),(-2.15,-13.75),(-1.95,-10.65),(-1.75,-15.05),(-1.55,-12.15),(-1.35,-17.9),(-1.15,-9.35),(-0.95,-13.0),
                    (-8.95,-5.2),(-8.7,-7.85),(-8.5,-3.2),(-8.25,-10.85),(-8.05,-6.95),(-7.75,-2.9),(-7.58,-7.15),(-7.42,-11.35),(-7.2,-4.45),(-6.98,-12.15),(-6.78,-5.5),(-6.62,-8.35),(-6.38,-2.55),(-6.18,-12.75),(-5.98,-6.85),(-5.78,-9.65),(-5.6,-13.85),(-5.42,-3.55),(-5.22,-10.15),(-5.0,-14.65),(-4.8,-6.45),(-4.62,-13.05),(-4.42,-8.25),(-4.22,-2.05),(-4.02,-10.8),(-3.82,-15.25),(-3.62,-5.55),(-3.42,-13.9),(-3.22,-7.25),(-3.02,-11.3),
                    (-8.82,-3.95),(-8.62,-6.05),(-8.32,-8.95),(-8.12,-11.9),(-7.92,-6.2),(-7.68,-9.45),(-7.48,-3.6),(-7.22,-13.95),(-7.02,-7.9),(-6.72,-10.45),(-6.52,-5.05),(-6.32,-15.35),(-6.12,-8.75),(-5.92,-4.05),(-5.68,-12.9),(-5.48,-7.75),(-5.28,-16.05),(-5.08,-9.2),(-4.88,-3.1),(-4.68,-11.55),(-4.48,-17.45),(-4.28,-6.05),(-4.08,-13.55),(-3.88,-9.05),(-3.68,-18.2),(-3.48,-4.95),(-3.28,-11.05),(-3.08,-16.9),(-2.88,-8.35),(-2.68,-15.55)]
inner_upper_right = [(8.7,9.8),(8.5,8.6),(8.25,6.7),(8.0,9.1),(7.75,7.5),(7.55,10.9),(7.4,8.9),(7.2,6.95),(7.0,9.45),(6.75,8.4),(6.6,11.2),(6.35,10.1),(6.2,12.5),(6.0,8.8),(5.8,11.3),(5.6,10.4),(5.4,13.1),(5.2,12.0),(5.0,12.6),(4.8,13.6),(4.6,10.2),(4.45,11.9),(4.2,13.2),(4.0,11.7),(3.8,14.0),(3.65,12.4),(3.4,11.4),(3.2,14.2),(3.0,12.9),(2.8,13.4),
                     (8.8,5.8),(8.6,4.4),(8.35,6.1),(8.1,4.6),(7.9,5.9),(7.7,3.8),(7.5,7.3),(7.3,5.6),(7.1,3.7),(6.9,6.8),(6.65,4.9),(6.5,7.8),(6.25,5.3),(6.05,7.3),(5.85,5.1),(5.6,6.9),(5.4,8.2),(5.2,6.9),(5.0,6.1),(4.8,8.0),(4.6,7.3),(4.4,9.0),(4.2,8.4),(3.9,5.8),(3.8,8.7),(3.6,7.1),(3.4,9.7),(3.2,8.3),(3.0,7.5),(2.7,9.4),
                     (8.95,9.3),(8.7,11.1),(8.45,8.5),(8.2,10.5),(7.95,11.9),(7.75,12.9),(7.55,9.6),(7.35,13.3),(7.15,11.5),(6.9,13.8),(6.7,11.6),(6.5,14.9),(6.35,13.6),(6.15,14.6),(5.95,13.8),(5.7,16.1),(5.55,14.6),(5.35,15.8),(5.15,15.7),(4.95,17.1),(4.75,14.7),(4.55,16.2),(4.35,17.5),(4.15,15.5),(3.95,16.9),(3.75,18.3),(3.55,16.1),(3.35,17.7),(3.15,16.4),(2.95,18.6),
                     (8.85,2.5),(8.4,1.7),(7.95,1.3),(7.6,2.9),(7.25,3.1),(6.85,0.8),(6.55,3.8),(6.2,2.4),(5.8,2.1),(5.45,1.0),(5.1,4.1),(4.75,0.6),(4.4,5.1),(4.05,2.0),(3.7,4.3),(3.35,1.8),(3.0,5.2),(2.65,0.7),(2.35,4.4),(2.1,5.5),
                     (2.8,14.7),(2.6,11.3),(2.4,17.4),(2.2,13.3),(2.0,11.1),(1.8,14.6),(1.6,12.6),(1.4,18.4),(1.2,9.9),(1.0,12.5),
                     (8.92,4.6),(8.68,7.6),(8.48,3.6),(8.28,10.3),(8.02,7.4),(7.78,2.6),(7.62,6.8),(7.38,11.8),(7.18,4.9),(6.96,12.4),(6.82,5.1),(6.58,8.9),(6.42,2.2),(6.22,12.2),(5.96,7.2),(5.82,9.2),(5.58,14.3),(5.38,3.2),(5.18,10.6),(4.98,14.1),(4.82,6.9),(4.58,12.6),(4.38,8.6),(4.18,2.6),(3.98,10.2),(3.78,15.6),(3.58,5.1),(3.38,13.4),(3.18,7.7),(2.98,11.8),
                     (8.78,3.5),(8.58,6.4),(8.38,9.4),(8.08,11.4),(7.88,6.7),(7.72,9.0),(7.44,3.1),(7.26,14.4),(6.98,7.5),(6.76,10.9),(6.48,5.4),(6.28,14.9),(6.08,9.2),(5.88,3.6),(5.72,13.4),(5.44,7.3),(5.24,15.6),(5.04,8.8),(4.84,3.5),(4.64,11.1),(4.44,17.9),(4.24,6.5),(4.04,14.0),(3.84,9.5),(3.64,17.6),(3.44,5.4),(3.24,10.6),(3.04,16.5),(2.84,8.8),(2.64,15.1)]
inner_center = [(-2.8,-3.1),(-2.55,-2.2),(-2.3,-4.6),(-2.1,-1.3),(-1.85,-3.9),(-1.6,-2.6),(-1.4,-5.4),(-1.2,-3.6),(-0.95,-1.9),(-0.75,-4.8),(-0.55,-2.9),(-0.35,-5.9),(-0.15,-3.4),(0.05,-1.2),(0.25,-4.2),(0.45,-2.5),(0.65,-0.4),(0.85,-3.1),(1.05,-1.7),(1.25,0.3),
                (-2.65,0.6),(-2.4,2.3),(-2.2,-0.2),(-1.95,1.4),(-1.75,-0.9),(-1.5,0.9),(-1.3,2.8),(-1.05,0.2),(-0.85,1.7),(-0.6,-0.3),(-0.4,2.4),(-0.2,0.8),(0.0,3.1),(0.2,1.3),(0.4,4.1),(0.6,2.2),(0.8,0.4),(1.0,3.4),(1.2,1.6),(1.4,4.6),
                (1.55,2.2),(1.75,0.8),(1.95,3.7),(2.15,1.9),(2.35,5.1),(2.55,3.3),(2.75,1.4),(2.95,4.3),(1.65,6.2),(1.85,4.9),(2.05,7.3),(2.25,5.8),(2.45,8.1),(2.65,6.4),(2.85,7.9),(0.3,5.6),(0.5,7.4),(0.7,6.1),(0.9,8.3),(1.1,7.0),
                (-0.1,-6.6),(-0.3,-8.1),(-0.5,-7.3),(-0.7,-9.5),(-0.9,-6.0),(-1.1,-8.6),(-1.3,-7.8),(-1.5,-9.9),(-1.7,-6.9),(-1.9,-8.4),(-2.1,-7.1),(-2.3,-9.3),(-2.5,-5.8),(-2.7,-8.2),(-2.9,-6.4),(0.1,-7.9),(0.3,-6.2),(0.5,-9.1),(-0.2,-10.8),(0.2,9.8),
                (-1.9,-1.1),(-1.62,-4.5),(-1.34,-0.3),(-1.06,-5.1),(-0.78,-2.3),(-0.5,-6.7),(-0.22,-1.6),(0.06,-4.9),(0.34,0.5),(0.62,-3.7),(0.9,1.2),(1.18,-2.6),(1.46,2.9),(1.74,-0.8),(2.02,4.0),(-0.96,3.1),(-0.64,5.2),(-0.32,0.9),(0.16,6.3),(0.48,3.0),(0.78,5.3),(1.08,4.5),(1.38,7.6),(1.68,3.6),(1.98,8.9),(-1.46,-7.4),(-1.18,-10.8),(-0.86,-7.9),(-0.56,-11.6),(-0.26,-9.3)]

phase_groups = [col_m10, col_m9, col_m8, col_m7, col_m6, col_m5, col_m4, col_m3, col_m2, col_m1,
                col_p0, col_p1, col_p2, col_p3, col_p4, col_p5, col_p6, col_p7, col_p8, col_p9,
                band_lower_a, band_lower_b, band_lower_c, band_lower_d,
                band_upper_a, band_upper_b, band_upper_c, band_upper_d,
                edge_left, edge_right, inner_lower_left, inner_upper_right, inner_center]
phase_x1 = [pt[0] for grp in phase_groups for pt in grp]
phase_x2 = [pt[1] for grp in phase_groups for pt in grp]


def style_axes(p, xticks, xlabels, yticks, ylabels):
    p.xgrid.visible = False
    p.ygrid.visible = False
    p.background_fill_color = "white"
    p.border_fill_color = "white"
    p.outline_line_color = FRAME
    p.outline_line_width = 1.3
    p.add_layout(LinearAxis(), "above")
    p.add_layout(LinearAxis(), "right")
    for ax in p.xaxis:
        ax.ticker = FixedTicker(ticks=xticks)
        ax.major_label_overrides = {v: s for v, s in zip(xticks, xlabels)}
    for ax in p.yaxis:
        ax.ticker = FixedTicker(ticks=yticks)
        ax.major_label_overrides = {v: s for v, s in zip(yticks, ylabels)}
    for ax in p.xaxis + p.yaxis:
        ax.axis_line_color = FRAME
        ax.axis_line_width = 1.3
        ax.major_tick_in = 4
        ax.major_tick_out = 0
        ax.major_tick_line_color = "#444444"
        ax.major_tick_line_width = 1
        ax.minor_tick_line_color = None
        ax.major_label_text_font = SERIF
        ax.major_label_text_font_size = "20px"
        ax.major_label_text_color = TXT
    p.below[0].major_label_standoff = 10
    p.left[0].major_label_standoff = 10
    for ax in (p.above[0], p.right[0]):
        ax.major_label_text_font_size = "0px"
        ax.major_label_text_color = None
        ax.major_label_standoff = 0


def strip(w, h):
    f = figure(width=w, height=h, x_range=Range1d(0, w), y_range=Range1d(0, h),
               x_axis_type=None, y_axis_type=None, output_backend="svg", toolbar_location=None,
               min_border=0, min_border_left=0, min_border_right=0, min_border_top=0, min_border_bottom=0)
    f.outline_line_color = None
    f.background_fill_color = "white"
    f.border_fill_color = "white"
    return f


def put(f, x, y, txt, size="21px", style="normal", align="left", angle=0.0):
    f.text(x=[x], y=[y], text=[txt], text_font=value(SERIF), text_font_size=value(size),
           text_font_style=style, text_align=align, text_baseline="alphabetic",
           angle=angle, text_color=TXT)


# ---------------- panel (a) ----------------
pa = figure(width=590, height=460, x_range=Range1d(-10.5, 10.5), y_range=Range1d(-10.5, 10.45),
            output_backend="svg", toolbar_location=None,
            min_border_left=45, min_border_right=27, min_border_top=11, min_border_bottom=36)
style_axes(pa, x1_ticks, x1_tick_labels, x3_ticks, x3_tick_labels)
pa.ellipse(x=ring_center_x, y=ring_center_y, width=ring_diameter, height=ring_diameter,
           fill_color=None, line_color=INK, line_width=4)

# ---------------- panel (b) ----------------
pb = figure(width=573, height=460, x_range=Range1d(-10.5, 10.5), y_range=Range1d(-30, 30),
            output_backend="svg", toolbar_location=None,
            min_border_left=46, min_border_right=8, min_border_top=11, min_border_bottom=36)
style_axes(pb, x1_ticks, x1_tick_labels, x2_ticks, x2_tick_labels)
pb.scatter(x=phase_x1, y=phase_x2, marker="circle", size=3.2, fill_color=INK, line_color=None)

# ---------------- y-axis label strips (rotated text) ----------------
ya = strip(40, 460)
put(ya, 14.5, 197, "x", style="italic", angle=math.pi / 2)
put(ya, 22.7, 208.5, "3", size="14px", angle=math.pi / 2)
put(ya, 14.5, 225, "(km)", angle=math.pi / 2)

yb = strip(32, 460)
put(yb, 10.5, 196, "x", style="italic", angle=math.pi / 2)
put(yb, 18.7, 209.5, "2", size="14px", angle=math.pi / 2)
put(yb, 10.5, 226, "(m/s)", angle=math.pi / 2)

# ---------------- x-axis labels and captions strip ----------------
bot = strip(1235, 65)
put(bot, 311, 55, "x", style="italic")
put(bot, 321, 47.3, "1", size="14px")
put(bot, 336.5, 55, "(km)")
put(bot, 935, 55, "x", style="italic")
put(bot, 945, 47.3, "1", size="14px")
put(bot, 960, 55, "(km)")
put(bot, 307, 15, "(a)\u2002Position coordinates of impacts", align="center")
put(bot, 1031, 15, "(b)\u2002Phase trajectory on C(", align="right")
put(bot, 1031, 15, "x", style="bold")
put(bot, 1041.5, 15, ")")

layout = column(row(ya, pa, yb, pb), bot)
open("out.html", "w").write(file_html(layout, INLINE))
